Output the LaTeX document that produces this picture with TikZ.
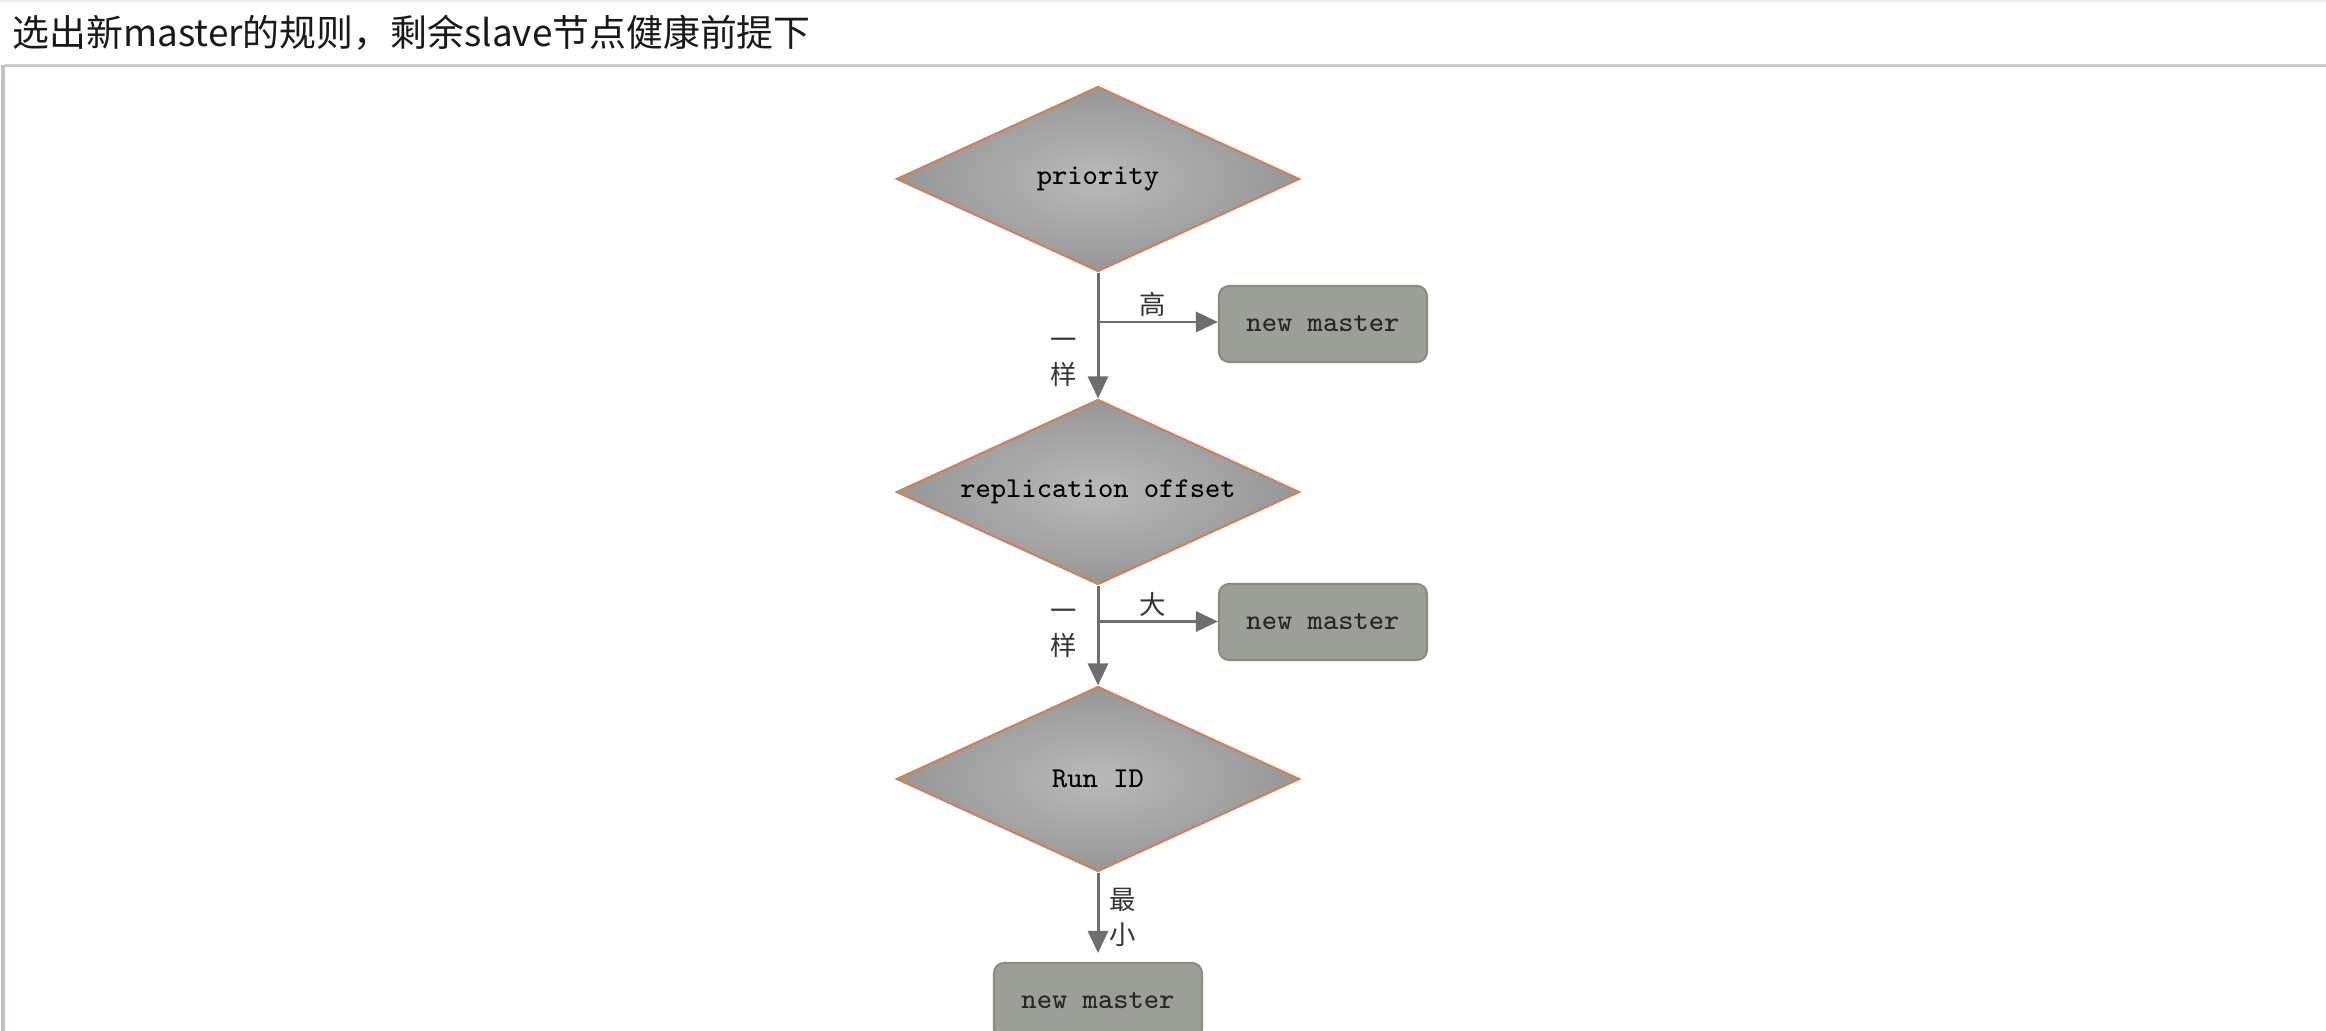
\documentclass[tikz,border=0pt]{standalone}
\usepackage{fontspec}
\newfontfamily\cjk{Noto Sans CJK SC}
\usepackage{tikz}
\usetikzlibrary{shapes.geometric,arrows.meta}

\definecolor{rimcol}{HTML}{CC825C}
\definecolor{boxfill}{HTML}{9C9E98}
\definecolor{boxrim}{HTML}{8A8E80}
\definecolor{flowcol}{HTML}{6E6E6E}
\definecolor{framecol}{HTML}{BCC2C8}

\tikzset{
	test/.style={diamond, aspect=2.2, draw=rimcol, line width=0.6pt, inner sep=0pt,
		minimum width=4.03cm, minimum height=1.85cm,
		inner color=gray!55, outer color=gray!82,
		text=black, font=\fontsize{8.2}{10}\selectfont\ttfamily},
	result/.style={rectangle, rounded corners=0.1cm, draw=boxrim, line width=0.6pt, fill=boxfill,
		minimum width=2.08cm, minimum height=0.76cm,
		text=black!85, font=\fontsize{8.2}{10}\selectfont\ttfamily},
	flow/.style={draw=flowcol, line width=0.85pt, -{Triangle[length=0.22cm,width=0.2cm]}},
	tag/.style={inner sep=0pt, align=center, text=black!80, font=\fontsize{7.5}{10}\selectfont\cjk}
}

\begin{document}
\begin{tikzpicture}
		\useasboundingbox (0,0) rectangle (23.26,-10.31);
		\fill[white] (0,0) rectangle (23.26,-10.31);
		\clip (0,0) rectangle (23.26,-10.31);
		% window frame
		\draw[gray!15, line width=0.5pt] (0,-0.01) -- (23.26,-0.01);
		\draw[gray!40, line width=0.8pt] (0.05,-0.655) -- (23.26,-0.655);
		\draw[framecol, line width=0.9pt] (0.03,-0.655) -- (0.03,-10.31);
		\node[anchor=west, inner sep=0pt, text=black!90, font=\fontsize{10.5}{12}\selectfont\cjk] (title) at (0.12,-0.33) {选出新master的规则，剩余slave节点健康前提下};
		% decisions
		\node[test] (pri) at (10.98,-1.79) {priority};
		\node[test] (rep) at (10.98,-4.92) {replication offset};
		\node[test] (rid) at (10.98,-7.79) {Run ID};
		\node[result] (nm1) at (13.23,-3.24) {new master};
		\node[result] (nm2) at (13.23,-6.22) {new master};
		\node[result] (nm3) at (10.98,-10.01) {new master};
		\coordinate (j1) at (10.98,-3.22);
		\coordinate (j2) at (10.98,-6.215);
		% connectors
		\draw[flow] (pri) -- (rep);
		\draw[flow] (j1) -- (j1 -| nm1.west);
		\draw[flow] (rep) -- (rid);
		\draw[flow] (j2) -- (j2 -| nm2.west);
		\draw[flow, shorten >=0.09cm] (rid) -- (nm3);
		% labels
		\node[tag] (hi) at (11.53,-3.04) {高};
		\node[tag] (eq1) at (10.64,-3.62) {一\\样};
		\node[tag] (big) at (11.53,-6.04) {大};
		\node[tag] (eq2) at (10.64,-6.33) {一\\样};
		\node[tag] (low) at (11.23,-9.17) {最\\小};
\end{tikzpicture}
\end{document}
